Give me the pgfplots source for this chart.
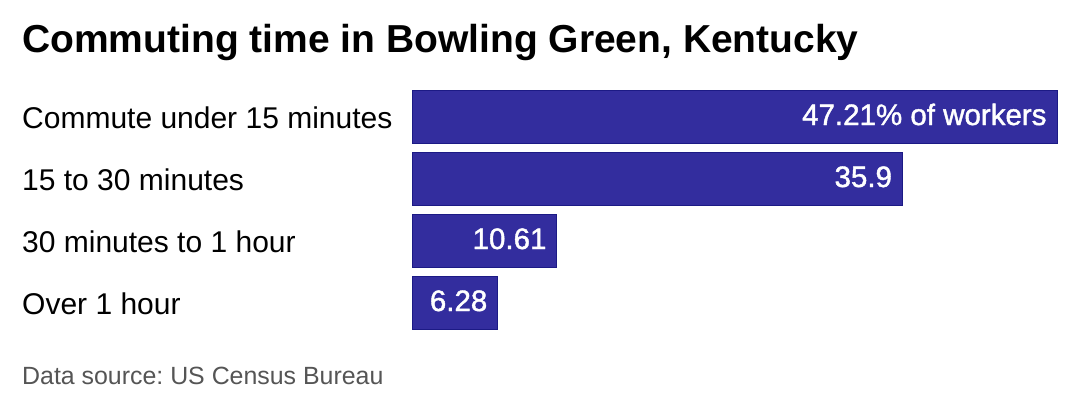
\documentclass[border=0pt]{standalone}
\usepackage{fontspec}
\setmainfont{Liberation Sans}
\newfontfamily\valfont[RawFeature={embolden=1.4}]{Liberation Sans}
\usepackage{pgfplots}
\pgfplotsset{compat=1.18}
\definecolor{barFill}{HTML}{332D9E}
\definecolor{barEdge}{HTML}{1C1A85}
\definecolor{srcGray}{HTML}{555555}
\frenchspacing

\begin{document}
\begin{tikzpicture}
  % page frame, 1 px = 1 bp
  \fill[white] (0,0) rectangle (1080bp,420bp);
  \useasboundingbox (0,0) rectangle (1080bp,420bp);

  \node[anchor=base west, inner sep=0pt, font=\fontsize{39bp}{44bp}\selectfont\bfseries]
    at (22bp,367bp) {Commuting time in Bowling Green, Kentucky};

  \begin{axis}[
      at={(412bp,86.5bp)}, anchor=south west,
      scale only axis,
      width=645bp, height=248bp,
      xbar, bar width=53bp,
      xmin=0, xmax=47.21,
      ymin=-0.5, ymax=3.5,
      y dir=reverse,
      enlargelimits=false,
      clip=false,
      axis line style={draw=none},
      major tick length=0pt,
      tick style={draw=none},
      xtick=\empty,
      ytick={0,1,2,3},
      yticklabels={Commute under 15 minutes, 15 to 30 minutes, 30 minutes to 1 hour, Over 1 hour},
      yticklabel style={anchor=base west, inner sep=0pt, xshift=-390bp, yshift=-11.5bp,
        font=\fontsize{30bp}{36bp}\selectfont, text=black},
      point meta=explicit symbolic,
      nodes near coords,
      every node near coord/.append style={anchor=base east, inner sep=0pt,
        xshift=-10bp, yshift=-8.5bp, text=white,
        font=\fontsize{29.5bp}{34bp}\selectfont\valfont},
    ]
    \addplot[fill=barFill, draw=barEdge, line width=1bp] coordinates {
      (47.21,0) [47.21\% of workers]
      (35.9,1)  [35.9]
      (10.61,2) [10.61]
      (6.28,3)  [6.28]
    };
  \end{axis}

  \node[anchor=base west, inner sep=0pt, text=srcGray, font=\fontsize{24.9bp}{30bp}\selectfont]
    at (22bp,36bp) {Data source: US Census Bureau};
\end{tikzpicture}
\end{document}
